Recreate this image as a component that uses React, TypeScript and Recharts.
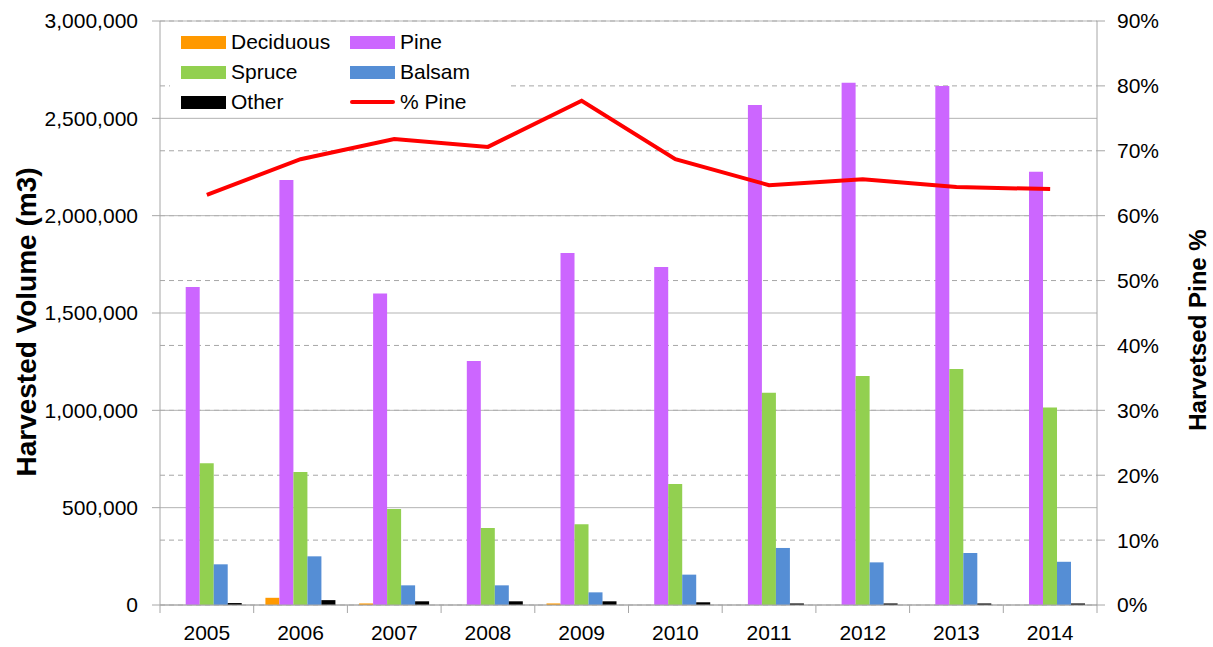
import React from "react";
import { Bar, CartesianGrid, ComposedChart, Line, XAxis, YAxis } from "recharts";

const years = ["2005", "2006", "2007", "2008", "2009", "2010", "2011", "2012", "2013", "2014"];
const deciduous = [0, 37000, 8000, 0, 8000, 0, 0, 0, 0, 0];
const pine = [1633000, 2183000, 1600000, 1253000, 1808000, 1736000, 2568000, 2683000, 2666000, 2226000];
const spruce = [728000, 683000, 493000, 395000, 415000, 622000, 1090000, 1177000, 1212000, 1015000];
const balsam = [209000, 250000, 101000, 101000, 65000, 156000, 293000, 219000, 267000, 222000];
const other = [10000, 25000, 19000, 19000, 19000, 14000, 8000, 8000, 8000, 8000];
const pinePct = [63.2, 68.7, 71.8, 70.6, 77.7, 68.7, 64.7, 65.6, 64.4, 64.1];

const volumeTicks = [0, 500000, 1000000, 1500000, 2000000, 2500000, 3000000];
const pctTicks = [0, 10, 20, 30, 40, 50, 60, 70, 80, 90];

const data = years.map((year, i) => ({
  year,
  deciduous: deciduous[i],
  pine: pine[i],
  spruce: spruce[i],
  balsam: balsam[i],
  other: other[i],
  pinePct: pinePct[i],
}));

const W = 1213;
const H = 647;
const LEFT_W = 160;
const RIGHT_W = 116;
const TOP = 21;
const X_H = 42;
const halfBand = (W - LEFT_W - RIGHT_W) / years.length / 2;
const FONT = "'Liberation Sans', Arial, sans-serif";
const AXIS = "#a6a6a6";

const legendItems = [
  { label: "Deciduous", color: "#ff9900", line: false },
  { label: "Pine", color: "#cc66ff", line: false },
  { label: "Spruce", color: "#92d050", line: false },
  { label: "Balsam", color: "#558ed5", line: false },
  { label: "Other", color: "#000000", line: false },
  { label: "% Pine", color: "#ff0000", line: true },
];

function YearTick(props: any) {
  const { x, y, payload, index } = props;
  const last = index === years.length - 1;
  return (
    <g>
      <line x1={x - halfBand} y1={y} x2={x - halfBand} y2={y + 8} stroke={AXIS} />
      {last && <line x1={x + halfBand} y1={y} x2={x + halfBand} y2={y + 8} stroke={AXIS} />}
      <text x={x} y={y + 35} textAnchor="middle" fontSize={21} fill="#000">
        {payload.value}
      </text>
    </g>
  );
}

function Legend() {
  return (
    <div
      style={{
        position: "absolute",
        left: 170,
        top: 24,
        width: 338,
        height: 90,
        background: "#fff",
        fontSize: 21,
      }}
    >
      {legendItems.map((it, i) => {
        const col = i % 2;
        const row = Math.floor(i / 2);
        return (
          <div
            key={it.label}
            style={{
              position: "absolute",
              left: col === 0 ? 11 : 180,
              top: 18 + row * 30 - 12,
              height: 24,
              display: "flex",
              alignItems: "center",
              whiteSpace: "nowrap",
            }}
          >
            <span
              style={{
                display: "inline-block",
                width: 45,
                height: it.line ? 4 : 13,
                background: it.color,
                borderRadius: it.line ? 2 : 0,
                marginRight: 5,
              }}
            />
            <span>{it.label}</span>
          </div>
        );
      })}
    </div>
  );
}

export default function App() {
  return (
    <div style={{ position: "absolute", left: 0, top: 0, width: W, height: H, fontFamily: FONT, background: "#fff" }}>
      <ComposedChart
        width={W}
        height={H}
        data={data}
        margin={{ top: TOP, right: 0, bottom: 0, left: 0 }}
        barCategoryGap="12.5%"
        barGap={0}
      >
        <CartesianGrid yAxisId="right" vertical={false} stroke="#a6a6a6" strokeDasharray="5 4" />
        <CartesianGrid yAxisId="left" vertical={false} stroke="#b3b3b3" />
        <XAxis
          dataKey="year"
          height={X_H}
          tickLine={false}
          tickSize={0}
          tickMargin={0}
          axisLine={{ stroke: AXIS }}
          tick={<YearTick />}
          interval={0}
        />
        <YAxis
          yAxisId="left"
          width={LEFT_W}
          domain={[0, 3000000]}
          ticks={volumeTicks}
          tickFormatter={(v: number) => v.toLocaleString("en-US")}
          tick={{ fill: "#000", fontSize: 21 }}
          tickSize={8}
          tickMargin={14}
          tickLine={{ stroke: AXIS }}
          axisLine={{ stroke: AXIS }}
          label={{
            content: (p: any) => {
              const vb = p.viewBox;
              const cx = 26;
              const cy = vb.y + vb.height / 2 + 9;
              return (
                <text
                  x={cx}
                  y={cy}
                  transform={`rotate(-90 ${cx} ${cy})`}
                  textAnchor="middle"
                  dominantBaseline="central"
                  fontSize={28}
                  fontWeight="bold"
                  fill="#000"
                >
                  Harvested Volume (m3)
                </text>
              );
            },
          }}
        />
        <YAxis
          yAxisId="right"
          orientation="right"
          width={RIGHT_W}
          domain={[0, 90]}
          ticks={pctTicks}
          tickFormatter={(v: number) => `${v}%`}
          tick={{ fill: "#000", fontSize: 21 }}
          tickSize={8}
          tickMargin={12}
          tickLine={{ stroke: AXIS }}
          axisLine={{ stroke: AXIS }}
          label={{
            content: (p: any) => {
              const vb = p.viewBox;
              const cx = 1197;
              const cy = vb.y + vb.height / 2 + 17;
              return (
                <text
                  x={cx}
                  y={cy}
                  transform={`rotate(-90 ${cx} ${cy})`}
                  textAnchor="middle"
                  dominantBaseline="central"
                  fontSize={24}
                  fontWeight="bold"
                  fill="#000"
                >
                  Harvetsed Pine %
                </text>
              );
            },
          }}
        />
        <Bar yAxisId="left" dataKey="deciduous" fill="#ff9900" isAnimationActive={false} />
        <Bar yAxisId="left" dataKey="pine" fill="#cc66ff" isAnimationActive={false} />
        <Bar yAxisId="left" dataKey="spruce" fill="#92d050" isAnimationActive={false} />
        <Bar yAxisId="left" dataKey="balsam" fill="#558ed5" isAnimationActive={false} />
        <Bar yAxisId="left" dataKey="other" fill="#000000" isAnimationActive={false} />
        <Line
          yAxisId="right"
          dataKey="pinePct"
          stroke="#ff0000"
          strokeWidth={4}
          dot={false}
          activeDot={false}
          isAnimationActive={false}
        />
      </ComposedChart>
      <Legend />
    </div>
  );
}
